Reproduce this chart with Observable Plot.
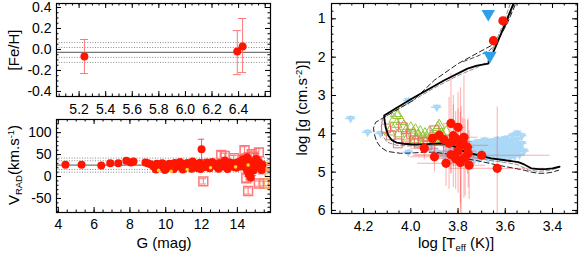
<!DOCTYPE html>
<html><head><meta charset="utf-8">
<script src="https://cdn.jsdelivr.net/npm/d3@7"></script>
<script src="https://cdn.jsdelivr.net/npm/@observablehq/plot@0.6"></script>
<style>
body{margin:0;background:#fff;}
#wrap{position:relative;width:581px;height:253px;overflow:hidden;background:#fff;}
#wrap svg{position:absolute;}
</style></head><body><div id="wrap"></div>
<script>
// ---------------- data: [Fe/H] panel ----------------
const fehX   = [5.24, 6.39, 6.43];
const fehY   = [-0.067, -0.02, 0.029];
const fehLo  = [-0.229, -0.24, -0.22];
const fehHi  = [0.095, 0.18, 0.295];
const fehMean = -0.028;
const fehBands = [0.067, 0.019, -0.075, -0.123];
const fehXTicks = [5.2, 5.4, 5.6, 5.8, 6.0, 6.2, 6.4];
const fehYTicks = [-0.4, -0.2, 0, 0.2, 0.4];

// ---------------- data: V_RAD panel (G, V, err) ----------------
const vradMean = 26;
const vradBands = [42, 36, 16, 10];
const vradStars = [
 [4.4,27,2],[5.3,27,2],[6.4,25,2],[6.9,30,2],[7.35,30,2],[7.8,36,2],[8.05,32,2],[8.2,34,2],[8.87,32,2],
 [9.0,30,2],[9.15,28,2],[9.3,24,2],[9.4,20,2],[9.5,29,2],[9.6,26,2],[9.7,22,2],[9.8,30,2],[9.9,27,3],
 [10.0,23,3],[10.1,19,3],[10.2,29,3],[10.3,25,3],[10.4,21,3],[10.5,31,3],[10.6,27,3],[10.7,23,3],[10.8,33,3],
 [10.9,29,3],[11.0,25,3],[11.1,20,3],[11.2,31,3],[11.3,27,3],[11.4,23,3],[11.5,34,4],[11.6,29,4],[11.7,25,4],
 [11.8,19,4],[11.9,31,4],[12.0,62,23],[12.1,27,4],[12.2,22,4],[12.3,32,4],[12.4,28,4],[12.5,24,4],[12.6,33,5],
 [12.7,29,5],[12.8,25,5],[12.9,21,5],[13.0,30,5],[13.1,27,5],[13.2,23,5],[13.3,36,8],[13.4,29,5],[13.5,25,5],
 [13.6,32,6],[13.7,28,6],[13.8,22,6],[13.9,31,6],[14.0,27,7],[14.1,33,7],[14.2,23,7],[14.3,39,8],[14.4,30,8],
 [14.45,25,8],[14.5,18,9],[14.55,44,10],[14.6,10,10],[14.65,4,10],[14.7,35,10],[14.75,-2,8],[14.8,29,10],
 [14.85,22,10],[14.9,14,12],[15.0,23,10],[15.05,40,12],[15.1,28,10],[15.2,33,10],[15.3,21,10],[15.35,15,9],
 [15.4,27,8],[9.45,16,2],[9.95,15,2],[10.45,17,2],[10.95,16,3],[11.45,18,3],[11.95,17,3],[12.45,19,3],
 [12.95,18,4],[13.45,17,4],[13.95,20,4]
];
const vradSquares = [[12.1,-11,6],[13.1,49,8],[13.3,47,6],[14.4,60,8],[14.8,51,7],[15.2,55,9],[14.5,-4,8],
 [14.6,-33,7],[15.2,-16,6],[14.9,45,8],[14.3,38,6],[13.8,42,6]];
const vradOrange = [[15.5,-16,5],[15.72,-16,5],[15.65,22,5],[15.8,10,4]];
const vradYellow = [[9.6,14],[10.3,12],[11.2,16],[12.5,20],[13.9,22],[14.6,26]];
const gTicks = [4, 6, 8, 10, 12, 14];
const vTicks = [-50, 0, 50, 100];

// ---------------- data: HR diagram (log Teff, log g) ----------------
const isoSolidT = [3.555,3.60,3.64,3.672,3.72,3.76,3.86,4.00,4.113,4.112,4.106,4.095,4.08,4.06,4.03,3.99,3.93,3.87,3.83,3.80,3.775,3.745,3.70,3.66,3.60,3.545,3.52,3.49,3.46,3.43,3.40,3.37];
const isoSolidG = [0.45,1.12,1.72,2.17,2.22,2.30,2.61,3.10,3.52,3.62,3.85,4.05,4.17,4.23,4.26,4.28,4.27,4.25,4.29,4.38,4.46,4.51,4.58,4.64,4.69,4.74,4.80,4.90,4.92,4.92,4.90,4.86];
const isoDashT  = [3.545,3.59,3.63,3.66,3.72,3.80,3.90,3.99,4.08,4.149,4.158,4.155,4.145,4.128,4.10,4.043,3.99,3.945,3.90,3.85,3.80,3.775,3.72,3.63,3.57,3.52,3.49,3.46,3.43,3.40,3.374];
const isoDashG  = [0.45,1.10,1.55,1.70,1.90,2.17,2.60,3.13,3.45,3.70,3.85,4.00,4.20,4.35,4.46,4.51,4.50,4.48,4.48,4.52,4.58,4.64,4.70,4.82,4.89,4.95,5.00,5.03,5.03,5.00,4.95];
const isoGreyT  = [3.57,3.61,3.65,3.675,3.72,3.80,3.90,4.00,4.10,4.12,4.125,4.12,4.10,4.06,4.00,3.94,3.88,3.83,3.78,3.72,3.66,3.60,3.55,3.50,3.46,3.42,3.38];
const isoGreyG  = [0.45,1.15,1.75,2.12,2.27,2.48,2.80,3.16,3.52,3.62,3.80,4.05,4.22,4.30,4.32,4.32,4.30,4.35,4.50,4.62,4.70,4.75,4.80,4.95,4.98,4.96,4.90];
const isoShortT = [3.552,3.60,3.64,3.668,3.72,3.788];
const isoShortG = [0.45,1.2,1.65,1.83,1.98,2.14];

const blueCloud = [[3.85,4.30],[3.84,4.45],[3.83,4.20],[3.82,4.55],[3.81,4.35],[3.80,4.62],[3.79,4.25],[3.78,4.48],
 [3.77,4.66],[3.76,4.38],[3.75,4.56],[3.74,4.28],[3.73,4.68],[3.72,4.45],[3.71,4.33],[3.70,4.60],[3.69,4.22],
 [3.68,4.50],[3.67,4.66],[3.66,4.36],[3.65,4.55],[3.64,4.18],[3.63,4.44],[3.62,4.62],[3.61,4.30],[3.60,4.12],
 [3.60,4.52],[3.59,4.40],[3.58,4.20],[3.58,4.62],[3.57,4.05],[3.57,4.48],[3.56,4.30],[3.56,4.58],[3.55,3.98],
 [3.55,4.15],[3.54,4.40],[3.54,4.55],[3.53,4.25],[3.53,4.05],[3.52,4.45],[3.86,4.60],[3.88,4.50],[3.90,4.42],
 [3.92,4.38],[4.255,3.60],[4.183,3.96],[3.89,3.31],[4.01,3.13],[4.01,4.48],[4.128,3.99],
 [3.574,4.16],[3.603,4.17],[3.632,4.14],[3.661,4.19],[3.688,4.16],[3.716,4.21],
 [3.553,4.26],[3.582,4.27],[3.612,4.24],[3.641,4.28],[3.672,4.25],[3.701,4.27],[3.731,4.24],[3.762,4.26],
 [3.541,4.34],[3.572,4.36],[3.598,4.33],[3.628,4.37],[3.659,4.34],[3.688,4.36],[3.722,4.35],[3.751,4.33],[3.782,4.36],
 [3.551,4.46],[3.583,4.44],[3.609,4.47],[3.642,4.45],[3.671,4.43],[3.702,4.46],[3.729,4.44],[3.763,4.47],[3.791,4.45],[3.823,4.43],
 [3.568,4.54],[3.601,4.56],[3.629,4.53],[3.662,4.55],[3.692,4.57],[3.721,4.54],[3.752,4.56],[3.781,4.53],[3.812,4.55],[3.842,4.52],
 [3.618,4.63],[3.651,4.64],[3.679,4.62],[3.712,4.65],[3.741,4.63],[3.771,4.64],[3.802,4.66]];
const blueBig = [[3.672,0.87],[3.665,1.96]];
const greenTri = [[4.064,3.47],[4.055,3.52],[4.07,3.62],[4.06,3.75],[4.04,3.68],[4.03,3.80],[4.02,3.92],[4.00,3.85],
 [3.99,3.98],[3.98,3.90],[3.97,4.05],[3.96,3.95],[3.95,4.10],[3.94,4.00],[3.93,4.12],[3.92,3.95],[3.91,4.05],
 [3.90,4.15],[3.89,3.90],[3.88,3.78],[3.885,3.83],[3.87,4.00],[3.86,4.10],[3.85,3.95],[4.08,3.85],[4.09,3.95],
 [4.05,4.00],[4.01,4.08],[3.98,4.15],[3.94,4.18],[3.90,4.22],[3.88,4.20]];
const redSquares = [[4.105,3.86],[4.085,4.04],[4.034,3.83],[4.02,4.10],[4.055,4.25],[3.987,4.17],[3.95,4.21],
 [3.90,3.91],[3.966,4.25],[3.88,4.40],[4.00,4.00],[3.93,4.30]];
// log Teff, log g, err(log Teff), err(log g)
const redCircles = [[3.61,1.05,0.01,0.05],[3.65,1.57,0.015,0.08],[3.83,3.73,0.03,1.3],[3.80,3.83,0.03,0.9],
 [3.908,4.12,0.08,0.2],[3.943,4.38,0.06,0.3],[3.90,4.60,0.10,0.4],[3.851,4.77,0.12,0.6],[3.787,4.69,0.05,1.4],
 [3.757,4.51,0.04,0.9],[3.775,4.09,0.06,1.6],[3.88,4.04,0.09,0.3],[3.838,4.25,0.05,1.2],[3.81,4.12,0.04,0.7],
 [3.70,4.56,0.29,0.15],[3.634,4.90,0.20,1.6],[3.753,4.82,0.07,0.9],[3.82,4.05,0.05,0.8],[3.79,4.30,0.12,1.5],
 [3.78,4.20,0.04,0.6],[3.80,4.45,0.08,1.1],[3.77,4.62,0.05,1.0],[3.83,4.55,0.15,0.5],[3.79,4.75,0.06,1.3],
 [3.76,4.35,0.03,0.7],[3.82,4.20,0.05,1.2],[3.81,4.65,0.10,0.8],[3.86,4.15,0.07,0.4]];
const teffTicks = [4.2, 4.0, 3.8, 3.6, 3.4];
const loggTicks = [1, 2, 3, 4, 5, 6];

// ---------------- helpers ----------------
const FONT = '"Liberation Sans", Arial, Helvetica, sans-serif';
const RED = "#ff1500", PINK = "#f77", ERR = "rgba(255,70,70,0.45)";
const baseStyle = {fontSize: "14px", fontFamily: FONT, background: "transparent", overflow: "visible", color: "#000"};

function frameTicks(xd, yd, xMaj, xMin, yMaj, yMin, iw, ih) {
  const inX = v => v >= Math.min(...xd) && v <= Math.max(...xd);
  const inY = v => v >= Math.min(...yd) && v <= Math.max(...yd);
  const s = {stroke: "#000", strokeWidth: 1};
  const mk = (xs, ys, L) => [
    Plot.tickX(xs.filter(inX), {x: d => d, insetTop: ih - L, ...s}),
    Plot.tickX(xs.filter(inX), {x: d => d, insetBottom: ih - L, ...s}),
    Plot.tickY(ys.filter(inY), {y: d => d, insetRight: iw - L, ...s}),
    Plot.tickY(ys.filter(inY), {y: d => d, insetLeft: iw - L, ...s})
  ];
  return [...mk(xMin, yMin, 2.5), ...mk(xMaj, yMaj, 5)];
}
const seq = (a, b, st) => d3.range(Math.round((b - a) / st) + 1).map(i => +(a + i * st).toFixed(4));
const wrap = document.getElementById("wrap");
function place(svg, left, top) { svg.style.left = left + "px"; svg.style.top = top + "px"; wrap.appendChild(svg); return d3.select(svg); }
function title(sel, x, y, rot, parts, anchor = "middle") {
  const t = sel.append("text").attr("transform", `translate(${x},${y}) rotate(${rot})`)
    .attr("text-anchor", anchor).attr("font-family", FONT).attr("font-size", 15).attr("fill", "#000");
  parts.forEach(([txt, kind]) => {
    const ts = t.append("tspan").text(txt);
    if (kind === "sub") ts.attr("font-size", 9.5).attr("baseline-shift", "-25%");
    if (kind === "sup") ts.attr("font-size", 9.5).attr("baseline-shift", "55%");
  });
}

// ---------------- panel 1: [Fe/H] ----------------
{
  const W = 280, H = 117, ml = 56, mr = 10, mt = 3, mb = 21;
  const xd = [5.03, 6.64], yd = [-0.448, 0.438];
  const rows = fehX.map((g, i) => ({g, v: fehY[i], lo: fehLo[i], hi: fehHi[i]}));
  const p = Plot.plot({
    width: W, height: H, marginLeft: ml, marginRight: mr, marginTop: mt, marginBottom: mb,
    style: baseStyle, x: {domain: xd}, y: {domain: yd},
    marks: [
      Plot.ruleY(fehBands, {y: d => d, stroke: "#8a8a8a", strokeDasharray: "1,1.6"}),
      Plot.ruleY([fehMean], {y: d => d, stroke: "#777", strokeWidth: 1.3}),
      Plot.ruleX(rows, {x: "g", y1: "lo", y2: "hi", stroke: PINK}),
      Plot.ruleY(rows, {y: "lo", x1: d => d.g - 0.03, x2: d => d.g + 0.03, stroke: PINK}),
      Plot.ruleY(rows, {y: "hi", x1: d => d.g - 0.03, x2: d => d.g + 0.03, stroke: PINK}),
      Plot.dot(rows, {x: "g", y: "v", r: 4, fill: RED}),
      Plot.axisX({ticks: fehXTicks, tickSize: 0, tickPadding: 8, label: null, tickFormat: d => d.toFixed(1)}),
      Plot.axisY({ticks: fehYTicks, tickSize: 0, tickPadding: 5, label: null, tickFormat: d => d.toFixed(1)}),
      Plot.frame({stroke: "#000", strokeWidth: 1.2}),
      ...frameTicks(xd, yd, seq(5.2, 6.6, 0.2), seq(5.05, 6.6, 0.05), fehYTicks, seq(-0.4, 0.4, 0.05), W - ml - mr, H - mt - mb)
    ]
  });
  const s = place(p, 0, 0);
  title(s, 19, 50, -90, [["[Fe/H]"]]);
}

// ---------------- panel 2: V_RAD vs G ----------------
{
  const W = 280, H = 143, ml = 56, mr = 10, mt = 9, mb = 41;
  const xd = [3.9, 15.85], yd = [-82, 130];
  const stars = vradStars.map(([g, v, e]) => ({g, v, e}));
  const sq = vradSquares.map(([g, v, e]) => ({g, v, e}));
  const orq = vradOrange.map(([g, v, e]) => ({g, v, e}));
  const yel = vradYellow.map(([g, v]) => ({g, v}));
  const cap = 0.18;
  const errMarks = (rows, color) => [
    Plot.ruleX(rows, {x: "g", y1: d => d.v - d.e, y2: d => d.v + d.e, stroke: color, clip: true}),
    Plot.ruleY(rows, {y: d => d.v - d.e, x1: d => d.g - cap, x2: d => d.g + cap, stroke: color, clip: true}),
    Plot.ruleY(rows, {y: d => d.v + d.e, x1: d => d.g - cap, x2: d => d.g + cap, stroke: color, clip: true})
  ];
  const p = Plot.plot({
    width: W, height: H, marginLeft: ml, marginRight: mr, marginTop: mt, marginBottom: mb,
    style: baseStyle, x: {domain: xd}, y: {domain: yd},
    marks: [
      Plot.ruleY(vradBands, {y: d => d, stroke: "#8a8a8a", strokeDasharray: "1,1.6"}),
      Plot.ruleY([vradMean], {y: d => d, stroke: "#777", strokeWidth: 1.3}),
      ...errMarks(orq, "#f7a35a"),
      Plot.dot(orq, {x: "g", y: "v", symbol: "square", r: 5, stroke: "#f7a35a", fill: "none", clip: true}),
      ...errMarks(sq, PINK),
      Plot.dot(sq, {x: "g", y: "v", symbol: "square", r: 5, stroke: PINK, fill: "none"}),
      ...errMarks(stars.filter(d => d.e > 4), "#f55"),
      Plot.dot(stars, {x: "g", y: "v", r: 4, fill: RED}),
      Plot.dot(yel, {x: "g", y: "v", r: 1.8, fill: "#ffd21a"}),
      Plot.axisX({ticks: gTicks, tickSize: 0, tickPadding: 7, label: null}),
      Plot.axisY({ticks: vTicks, tickSize: 0, tickPadding: 5, label: null, tickFormat: d => String(d)}),
      Plot.frame({stroke: "#000", strokeWidth: 1.2}),
      ...frameTicks(xd, yd, gTicks, seq(4, 15.5, 0.5), vTicks, seq(-80, 120, 10), W - ml - mr, H - mt - mb)
    ]
  });
  const s = place(p, 0, 110);
  title(s, 19, 55, -90, [["V"], ["RAD", "sub"], ["(km.s"], ["-1", "sup"], [")"]]);
  title(s, 164, 138, 0, [["G (mag)"]]);
}

// ---------------- panel 3: HR diagram ----------------
{
  const W = 291, H = 253, ml = 41, mr = 4, mt = 3, mb = 40;
  const xd = [4.336, 3.294], yd = [0.6, 6.08];
  const line = (T, G) => T.map((t, i) => ({t, g: G[i]}));
  const blue = blueCloud.map(([t, g]) => ({t, g}));
  const green = greenTri.map(([t, g]) => ({t, g}));
  const rsq = redSquares.map(([t, g]) => ({t, g}));
  const rc = redCircles.map(([t, g, et, eg]) => ({t, g, et, eg}));
  const BL = "#a9d9f6";
  const p = Plot.plot({
    width: W, height: H, marginLeft: ml, marginRight: mr, marginTop: mt, marginBottom: mb,
    style: baseStyle, x: {domain: xd}, y: {domain: yd, reverse: true},
    marks: [
      Plot.ruleX(blue, {x: "t", y1: d => d.g - 0.07, y2: d => d.g + 0.07, stroke: BL, strokeWidth: 1.5}),
      Plot.ruleY(blue, {y: "g", x1: d => d.t - 0.022, x2: d => d.t + 0.022, stroke: BL, strokeWidth: 1.5}),
      Plot.dot(blue, {x: "t", y: "g", symbol: "triangle", rotate: 180, r: 3.2, fill: BL}),
      Plot.ruleX(rc, {x: "t", y1: d => d.g - d.eg, y2: d => d.g + d.eg, stroke: ERR, clip: true}),
      Plot.ruleY(rc, {y: "g", x1: d => d.t - d.et, x2: d => d.t + d.et, stroke: ERR, clip: true}),
      Plot.dot(green, {x: "t", y: "g", symbol: "triangle", r: 4, stroke: "#96c43a", fill: "none", strokeWidth: 1}),
      Plot.dot(rsq, {x: "t", y: "g", symbol: "square", r: 5, stroke: "#f36a6a", fill: "none", strokeWidth: 1}),
      Plot.line(line(isoGreyT, isoGreyG), {x: "t", y: "g", stroke: "#8c8c8c", strokeWidth: 1, strokeDasharray: "4,2.5", clip: true}),
      Plot.line(line(isoShortT, isoShortG), {x: "t", y: "g", stroke: "#444", strokeWidth: 1, strokeDasharray: "4,3", clip: true}),
      Plot.line(line(isoDashT, isoDashG), {x: "t", y: "g", stroke: "#222", strokeWidth: 1, strokeDasharray: "5,3", clip: true}),
      Plot.line(line(isoSolidT, isoSolidG), {x: "t", y: "g", stroke: "#000", strokeWidth: 1.8, clip: true}),
      Plot.dot(rc, {x: "t", y: "g", r: 4.6, fill: RED}),
      Plot.dot(blueBig.map(([t, g]) => ({t, g})), {x: "t", y: "g", symbol: "triangle", rotate: 180, r: 5, fill: "#2f9fe8"}),
      Plot.axisX({ticks: teffTicks, tickSize: 0, tickPadding: 8, label: null, tickFormat: d => d.toFixed(1)}),
      Plot.axisY({ticks: loggTicks, tickSize: 0, tickPadding: 6, label: null, tickFormat: d => String(d)}),
      Plot.frame({stroke: "#000", strokeWidth: 1.2}),
      ...frameTicks(xd, yd, teffTicks, seq(3.3, 4.3, 0.05), loggTicks, seq(0.6, 6.0, 0.2), W - ml - mr, H - mt - mb)
    ]
  });
  const s = place(p, 290, 0);
  title(s, 17, 108, -90, [["log [g (cm.s"], ["-2", "sup"], [")]"]]);
  title(s, 166, 248, 0, [["log [T"], ["eff", "sub"], [" (K)]"]]);
}
</script></body></html>
